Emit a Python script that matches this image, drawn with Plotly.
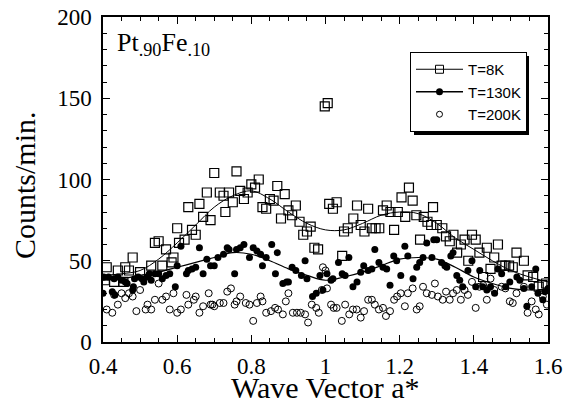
import plotly.graph_objects as go

# T=8K (open squares)
x8 = [0.405,0.41,0.43,0.44,0.455,0.46,0.47,0.48,0.50,0.53,0.54,0.55,0.56,0.57,0.585,0.59,0.60,0.605,0.62,0.63,
      0.64,0.65,0.66,0.67,0.68,0.69,0.70,0.715,0.725,0.73,0.74,0.75,0.76,0.77,0.78,0.79,0.80,0.81,0.82,0.83,
      0.84,0.85,0.86,0.87,0.88,0.89,0.90,0.91,0.92,0.93,0.94,0.95,0.96,0.97,0.98,0.998,1.006,1.01,1.02,1.03,
      1.045,1.05,1.06,1.075,1.085,1.095,1.105,1.115,1.125,1.135,1.145,1.155,1.165,1.175,1.185,1.195,1.205,1.215,1.225,1.235,
      1.245,1.255,1.265,1.275,1.285,1.29,1.30,1.315,1.325,1.335,1.345,1.355,1.365,1.375,1.385,1.395,1.405,1.415,1.425,1.435,
      1.445,1.455,1.465,1.475,1.485,1.495,1.505,1.515,1.535,1.545,1.56,1.575,1.585,1.595]
y8 = [38,46,37,44,37,46,44,52,43,47,61,62,47,57,49,52,70,61,63,83,
      69,66,85,77,92,75,104,92,90,80,92,86,105,93,88,92,97,95,100,83,
      82,88,87,96,76,91,81,78,84,74,66,68,71,58,57,145,147,85,82,86,
      53,68,70,76,84,72,68,82,70,70,70,81,84,80,69,80,89,77,95,87,
      78,63,77,74,72,83,72,70,65,62,66,55,60,63,50,66,63,55,40,58,
      45,52,60,47,47,47,46,55,50,41,40,34,35,36]

# T=130K (filled circles)
x130 = [0.40,0.402,0.415,0.425,0.43,0.432,0.44,0.45,0.46,0.465,0.48,0.482,0.485,0.495,0.505,0.51,0.52,0.525,0.53,0.54,
        0.55,0.56,0.57,0.58,0.595,0.60,0.61,0.625,0.63,0.64,0.65,0.66,0.67,0.68,0.69,0.70,0.71,0.725,0.735,0.74,
        0.755,0.76,0.77,0.78,0.795,0.805,0.815,0.825,0.83,0.84,0.855,0.865,0.87,0.885,0.895,0.90,0.91,0.92,0.935,0.945,
        0.95,0.965,0.975,0.985,0.993,1.004,1.015,1.02,1.035,1.045,1.053,1.063,1.074,1.085,1.095,1.103,1.115,1.125,1.133,1.144,
        1.155,1.165,1.174,1.184,1.192,1.203,1.214,1.222,1.236,1.246,1.254,1.263,1.273,1.287,1.292,1.30,1.313,1.322,1.327,1.338,
        1.344,1.354,1.362,1.37,1.384,1.395,1.405,1.416,1.424,1.435,1.445,1.456,1.465,1.475,1.486,1.497,1.516,1.524,1.535,1.543,
        1.556,1.567,1.573,1.586,1.592,1.60]
y130 = [30,40,40,31,39,29,40,38,37,36,32,34,39,40,39,37,40,42,38,42,
        42,39,41,42,34,47,59,42,44,45,46,58,42,51,47,47,52,54,58,57,
        42,57,58,60,52,58,56,54,47,52,60,42,55,36,37,37,46,44,41,50,
        39,28,30,41,32,42,38,39,49,42,41,52,34,37,43,47,44,45,57,49,
        46,45,35,53,50,41,59,53,39,46,49,52,61,52,63,63,49,47,46,53,
        55,41,38,34,44,50,34,44,34,32,34,30,45,42,34,37,40,38,33,22,
        34,45,30,26,31,33]

# T=200K (open circles)
x200 = [0.41,0.425,0.43,0.44,0.45,0.46,0.47,0.48,0.49,0.50,0.515,0.52,0.53,0.54,0.55,0.56,0.57,0.58,0.59,0.60,
        0.61,0.625,0.63,0.645,0.65,0.66,0.67,0.685,0.69,0.695,0.70,0.715,0.725,0.735,0.745,0.755,0.76,0.77,0.785,0.795,
        0.805,0.815,0.825,0.83,0.84,0.853,0.864,0.872,0.885,0.893,0.90,0.912,0.923,0.933,0.945,0.953,0.963,0.975,0.982,0.99,
        0.993,1.0,1.004,1.015,1.022,1.03,1.044,1.053,1.064,1.074,1.084,1.095,1.104,1.115,1.125,1.133,1.144,1.155,1.163,1.174,
        1.185,1.193,1.203,1.214,1.222,1.235,1.246,1.254,1.263,1.273,1.287,1.295,1.303,1.316,1.325,1.335,1.344,1.354,1.365,1.375,
        1.384,1.395,1.405,1.415,1.425,1.435,1.445,1.455,1.475,1.485,1.497,1.505,1.515,1.535,1.545,1.556,1.567,1.575,1.586,1.597]
y200 = [20,18,29,23,30,27,30,28,19,32,20,23,20,26,36,26,28,20,30,18,
        20,29,23,26,28,18,22,30,23,23,22,24,24,31,33,23,25,28,24,23,
        13,24,28,25,18,19,21,20,17,25,30,18,18,18,17,12,23,21,18,32,
        46,44,33,23,21,21,13,23,17,20,20,15,19,26,26,23,20,21,16,19,
        26,28,30,22,30,33,20,22,34,30,29,36,28,26,31,26,30,32,26,32,
        29,37,21,34,35,26,39,32,34,33,25,24,30,34,18,25,20,17,28,23]

# smooth guide curves
xfit = [0.40,0.45,0.50,0.55,0.60,0.65,0.70,0.75,0.80,0.85,0.90,0.95,1.00,1.05,1.10,1.15,1.20,1.25,1.30,1.35,1.40,1.45,1.50,1.55,1.60]
fit8 = [41,42,44,51,61,72,83,90,93,88,80,73,69,69,73,78,80,79,73,64,57,50,44,40,37]
fit130 = [38,39,41,43,46,49,52,55,54,50,45,41,38,40,43,47,51,52,51,46,40,36,33,32,32]

fig = go.Figure()
fig.add_trace(go.Scatter(x=xfit, y=fit8, mode="lines", line=dict(color="black", width=1, shape="spline"),
                         showlegend=False, hoverinfo="skip"))
fig.add_trace(go.Scatter(x=xfit, y=fit130, mode="lines", line=dict(color="black", width=1.2, shape="spline"),
                         showlegend=False, hoverinfo="skip"))
fig.add_trace(go.Scatter(x=x8, y=y8, mode="markers", name="T=8K", showlegend=False,
                         marker=dict(symbol="square-open", size=9, color="black", line=dict(width=1.2))))
fig.add_trace(go.Scatter(x=x130, y=y130, mode="markers", name="T=130K", showlegend=False,
                         marker=dict(symbol="circle", size=7, color="black")))
fig.add_trace(go.Scatter(x=x200, y=y200, mode="markers", name="T=200K", showlegend=False,
                         marker=dict(symbol="circle-open", size=7, color="black", line=dict(width=1))))
# legend entries
fig.add_trace(go.Scatter(x=[None], y=[None], mode="lines+markers", name="T=8K",
                         line=dict(color="black", width=1),
                         marker=dict(symbol="square-open", size=8, color="black", line=dict(width=1))))
fig.add_trace(go.Scatter(x=[None], y=[None], mode="lines+markers", name="T=130K",
                         line=dict(color="black", width=1.5),
                         marker=dict(symbol="circle", size=7, color="black")))
fig.add_trace(go.Scatter(x=[None], y=[None], mode="markers", name="T=200K",
                         marker=dict(symbol="circle-open", size=6, color="black", line=dict(width=1))))

serif = "Liberation Serif, Times New Roman, serif"
axis_common = dict(showline=True, linecolor="black", linewidth=1.5, mirror="allticks",
                   ticks="inside", ticklen=7, tickwidth=1.2, tickcolor="black",
                   showgrid=False, zeroline=False, ticklabeloverflow="allow", automargin=False,
                   tickfont=dict(family=serif, size=23, color="black"))
fig.update_xaxes(range=[0.4, 1.6], tickvals=[0.4, 0.6, 0.8, 1.0, 1.2, 1.4, 1.6],
                 ticktext=["0.4", "0.6", "0.8", "1", "1.2", "1.4", "1.6"], ticklabelstandoff=3,
                 minor=dict(dtick=0.05, tick0=0.4, ticks="inside", ticklen=4, tickcolor="black", showgrid=False),
                 **axis_common)
fig.update_yaxes(range=[0, 200], tickvals=[0, 50, 100, 150, 200], ticklabelstandoff=5,
                 minor=dict(dtick=10, tick0=0, ticks="inside", ticklen=4, tickcolor="black", showgrid=False),
                 **axis_common)

W, H = 566, 405
L, R, T, B = 103, 18, 17, 63
pw, ph = W - L - R, H - T - B

def px(xr):
    return (xr - L) / pw

def py(yr):
    return (H - B - yr) / ph

# axis titles
fig.add_annotation(x=0.5, y=py(387), xref="paper", yref="paper", xanchor="center", yanchor="middle",
                   text="Wave Vector a*", showarrow=False,
                   font=dict(family=serif, size=30, color="black"))
fig.add_annotation(x=px(24), y=py(185), xref="paper", yref="paper", xanchor="center", yanchor="middle",
                   text="Counts/min.", showarrow=False, textangle=-90,
                   font=dict(family=serif, size=30, color="black"))

fig.add_annotation(x=px(115), y=py(26), xref="paper", yref="paper", xanchor="left", yanchor="top",
                   text="Pt<sub>.90</sub>Fe<sub>.10</sub>", showarrow=False,
                   font=dict(family=serif, size=26, color="black"))

# legend shadow
fig.add_shape(type="rect", xref="paper", yref="paper", x0=px(414), x1=px(529), y0=py(135), y1=py(56),
              fillcolor="black", line=dict(width=0), layer="above")

fig.update_layout(
    width=W, height=H, margin=dict(l=L, r=R, t=T, b=B),
    paper_bgcolor="white", plot_bgcolor="white",
    legend=dict(x=px(410), y=py(52), xanchor="left", yanchor="top",
                bgcolor="white", bordercolor="black", borderwidth=1,
                font=dict(family="Liberation Sans, Arial, sans-serif", size=15, color="black"),
                itemwidth=47, tracegroupgap=0),
    showlegend=True,
)
fig.write_html("out.html", config={"displayModeBar": False},
               post_script="document.body.style.margin='0';document.body.style.overflow='hidden';")
